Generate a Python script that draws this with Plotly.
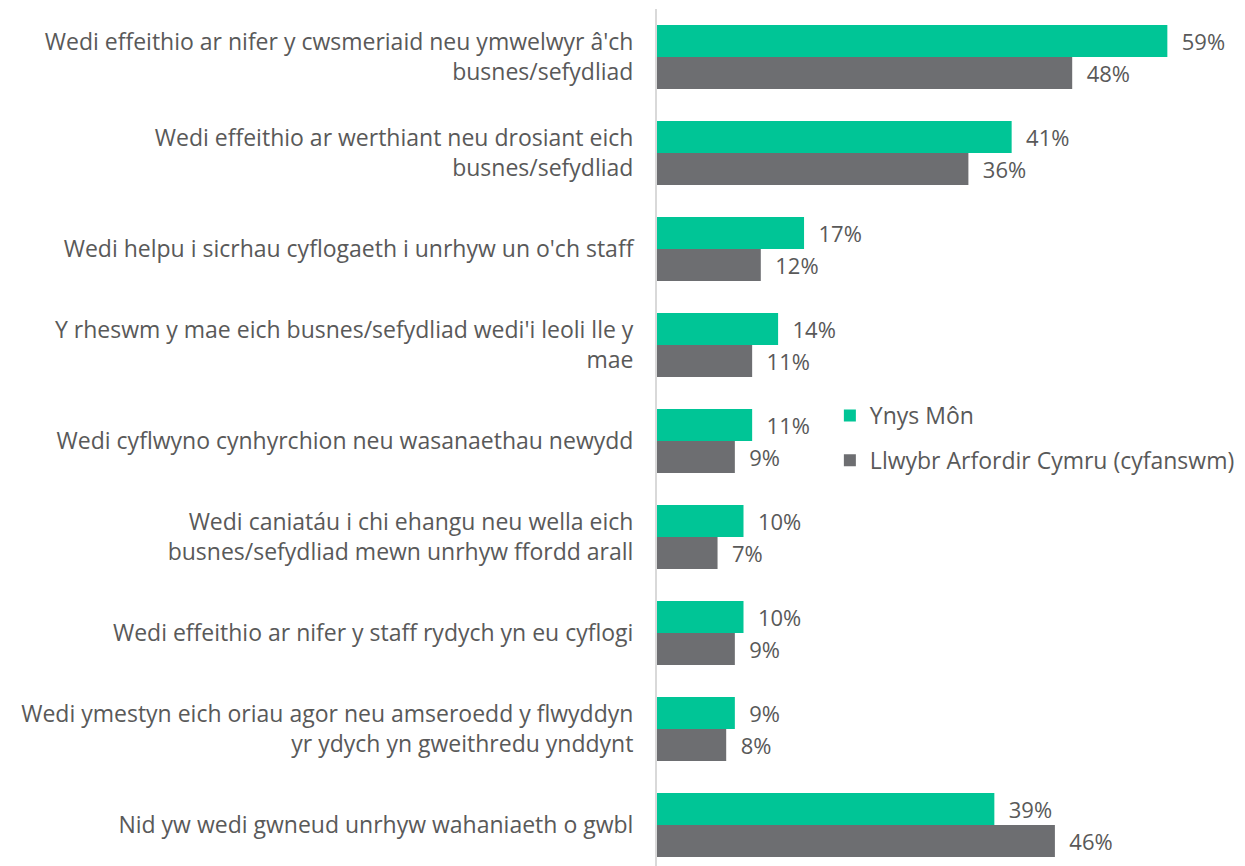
import plotly.graph_objects as go

categories = [
    "Wedi effeithio ar nifer y cwsmeriaid neu ymwelwyr â'ch<br>busnes/sefydliad",
    "Wedi effeithio ar werthiant neu drosiant eich<br>busnes/sefydliad",
    "Wedi helpu i sicrhau cyflogaeth i unrhyw un o'ch staff",
    "Y rheswm y mae eich busnes/sefydliad wedi'i leoli lle y<br>mae",
    "Wedi cyflwyno cynhyrchion neu wasanaethau newydd",
    "Wedi caniatáu i chi ehangu neu wella eich<br>busnes/sefydliad mewn unrhyw ffordd arall",
    "Wedi effeithio ar nifer y staff rydych yn eu cyflogi",
    "Wedi ymestyn eich oriau agor neu amseroedd y flwyddyn<br>yr ydych yn gweithredu ynddynt",
    "Nid yw wedi gwneud unrhyw wahaniaeth o gwbl",
]
ynys_mon = [59, 41, 17, 14, 11, 10, 10, 9, 39]
cymru_total = [48, 36, 12, 11, 9, 7, 9, 8, 46]

series_names = ["Ynys Môn", "Llwybr Arfordir Cymru (cyfanswm)"]
colors = ["#00C596", "#6D6E71"]

FONT = "Open Sans"
TXT = "#595959"

# page body adds 8px, so margins are set 8px tighter than the target
L, R, T, B = 649, 10, 1, 0
W, H = 1245, 866
PX_PER_PCT = 8.65
ROW = 96

fig = go.Figure()
for i, (name, vals, col) in enumerate(zip(series_names, [ynys_mon, cymru_total], colors)):
    fig.add_trace(go.Bar(
        y=categories, x=vals, orientation="h", name=name,
        marker=dict(color=col, line=dict(width=0)),
        text=[f"  {v}%" for v in vals], textposition="outside",
        textfont=dict(family=FONT, size=22, color=TXT),
        cliponaxis=False, legendgroup=f"g{i}",
    ))

fig.update_layout(
    width=W, height=H,
    margin=dict(l=L, r=R, t=T, b=B),
    barmode="group", bargap=1 / 3, bargroupgap=0,
    plot_bgcolor="white", paper_bgcolor="white",
    font=dict(family=FONT, size=23, color=TXT),
    showlegend=True,
    legend=dict(
        x=0.295, y=0.555, xanchor="left", yanchor="top",
        font=dict(family=FONT, size=23, color=TXT),
        bgcolor="rgba(0,0,0,0)", tracegroupgap=12,
        itemwidth=30,
    ),
    xaxis=dict(range=[0, (W - L - R) / PX_PER_PCT], visible=False, fixedrange=True),
    yaxis=dict(
        range=[-0.5 + (H - T - B) / ROW, -0.5], showline=True, linecolor="#D9D9D9", linewidth=2,
        showgrid=False, ticks="", ticklabelstandoff=17,
        tickfont=dict(family=FONT, size=23, color=TXT),
    ),
)

fig.write_html("out.html")
